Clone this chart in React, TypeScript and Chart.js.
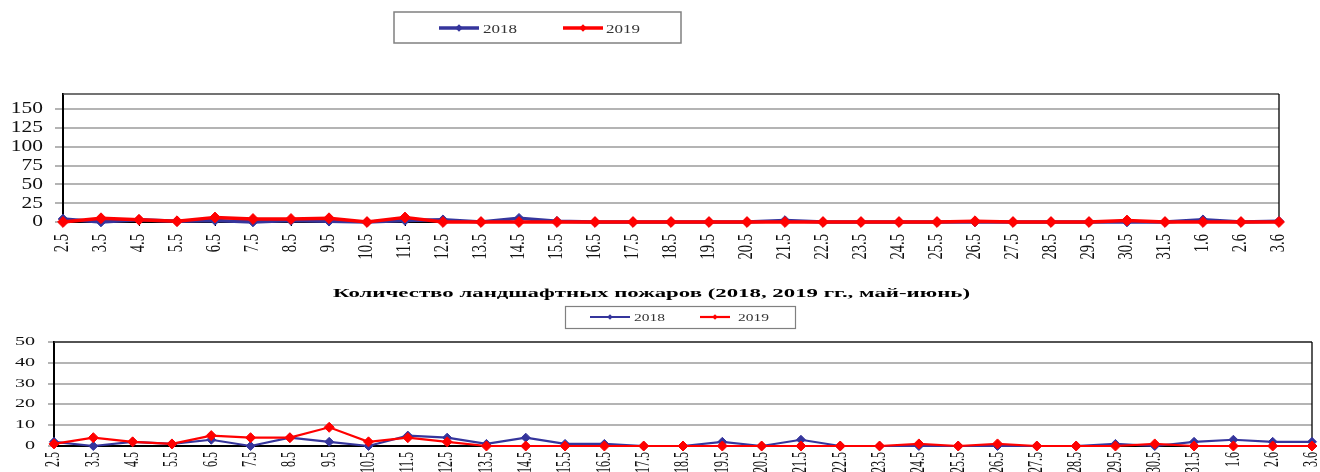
import React, { useEffect, useRef } from 'react';
import { Chart, registerables } from 'chart.js';

Chart.register(...registerables);

// ---------- data ----------
const categories = ['2.5', '3.5', '4.5', '5.5', '6.5', '7.5', '8.5', '9.5', '10.5', '11.5', '12.5', '13.5', '14.5', '15.5', '16.5', '17.5', '18.5', '19.5', '20.5', '21.5', '22.5', '23.5', '24.5', '25.5', '26.5', '27.5', '28.5', '29.5', '30.5', '31.5', '1.6', '2.6', '3.6'];
const seriesLabels = ['2018', '2019'];

const topValues2018 = [4, 0, 3, 1, 2, 0, 2, 1, 0, 2, 3, 0, 5, 1, 0, 0, 0, 0, 0, 2, 0, 0, 0, 0, 0, 0, 0, 0, 0, 0, 3, 0, 1];
const topValues2019 = [0, 5, 3, 1, 6, 4, 4, 5, 0, 6, 0, 0, 0, 0, 0, 0, 0, 0, 0, 0, 0, 0, 0, 0, 1, 0, 0, 0, 2, 0, 0, 0, 0];

const bottomValues2018 = [2, 0, 2, 1, 3, 0, 4, 2, 0, 5, 4, 1, 4, 1, 1, 0, 0, 2, 0, 3, 0, 0, 0, 0, 0, 0, 0, 1, 0, 2, 3, 2, 2];
const bottomValues2019 = [1, 4, 2, 1, 5, 4, 4, 9, 2, 4, 2, 0, 0, 0, 0, 0, 0, 0, 0, 0, 0, 0, 1, 0, 1, 0, 0, 0, 1, 0, 0, 0, 0];

const topYTicks = [0, 25, 50, 75, 100, 125, 150];
const topYMax = 170;
const bottomYTicks = [0, 10, 20, 30, 40, 50];
const bottomYMax = 50;

const bottomTitle = 'Количество ландшафтных пожаров (2018, 2019 гг., май-июнь)';

// ---------- styles ----------
const FONT = "'Liberation Serif', 'Times New Roman', serif";
const BLUE = '#35359c';
const RED = '#ff0000';

function stretchedText(ctx: any, text: string, x: number, y: number, sx: number, align: string) {
  ctx.save();
  ctx.translate(x, y);
  ctx.scale(sx, 1);
  ctx.textAlign = align;
  ctx.fillText(text, 0, 0);
  ctx.restore();
}

const framePlugin = {
  id: 'frame',
  beforeDatasetsDraw(chart: any, _a: any, opts: any) {
    const { ctx, chartArea: a } = chart;
    ctx.save();
    ctx.strokeStyle = opts.topColor;
    ctx.lineWidth = opts.topWidth;
    ctx.beginPath();
    ctx.moveTo(a.left, a.top);
    ctx.lineTo(a.right, a.top);
    ctx.stroke();
    ctx.strokeStyle = opts.rightColor;
    ctx.lineWidth = opts.rightWidth;
    ctx.beginPath();
    ctx.moveTo(a.right, a.top);
    ctx.lineTo(a.right, a.bottom);
    ctx.stroke();
    ctx.restore();
  },
};

// tick labels drawn at the library's own tick positions, with a horizontal stretch
const tickTextPlugin = {
  id: 'tickText',
  afterDraw(chart: any, _a: any, opts: any) {
    const { ctx } = chart;
    const xs = chart.scales.x;
    const ys = chart.scales.y;
    ctx.save();
    ctx.fillStyle = opts.color;
    ctx.textBaseline = 'middle';
    ctx.font = `${opts.yFont}px ${FONT}`;
    ys.ticks.forEach((t: any) => {
      const y = ys.getPixelForValue(t.value);
      stretchedText(ctx, String(t.value), opts.yRight, y, opts.ySx, 'right');
    });
    ctx.font = `${opts.xFont}px ${FONT}`;
    xs.ticks.forEach((t: any, i: number) => {
      const x = xs.getPixelForTick(i);
      const label = xs.getLabelForValue(t.value);
      ctx.save();
      ctx.translate(x, opts.xTop);
      ctx.scale(opts.xSx, 1);
      ctx.rotate(-Math.PI / 2);
      ctx.textAlign = 'right';
      ctx.fillText(label, 0, 0);
      ctx.restore();
    });
    ctx.restore();
  },
};

const boxLegendPlugin = {
  id: 'boxLegend',
  afterDraw(chart: any, _a: any, opts: any) {
    const { ctx } = chart;
    ctx.save();
    const b = opts.box;
    ctx.strokeStyle = opts.borderColor;
    ctx.lineWidth = opts.borderWidth;
    ctx.strokeRect(b.x, b.y, b.w, b.h);
    ctx.font = opts.font;
    ctx.textBaseline = 'middle';
    chart.data.datasets.forEach((ds: any, i: number) => {
      const it = opts.items[i];
      const y = opts.y;
      ctx.strokeStyle = ds.borderColor;
      ctx.lineWidth = opts.lineWidth;
      ctx.beginPath();
      ctx.moveTo(it.x0, y);
      ctx.lineTo(it.x1, y);
      ctx.stroke();
      const cx = (it.x0 + it.x1) / 2;
      const r = opts.markerRadius;
      ctx.fillStyle = ds.borderColor;
      ctx.beginPath();
      ctx.moveTo(cx, y - r);
      ctx.lineTo(cx + r, y);
      ctx.lineTo(cx, y + r);
      ctx.lineTo(cx - r, y);
      ctx.closePath();
      ctx.fill();
      ctx.fillStyle = opts.textColor;
      const w0 = ctx.measureText(ds.label).width;
      stretchedText(ctx, ds.label, it.tx, y + 1, opts.textWidth / w0, 'left');
    });
    ctx.restore();
  },
};

const fittedTitlePlugin = {
  id: 'fittedTitle',
  afterDraw(chart: any, _a: any, opts: any) {
    if (!opts.text) return;
    const { ctx } = chart;
    ctx.save();
    ctx.font = opts.font;
    ctx.fillStyle = opts.color;
    ctx.textBaseline = 'middle';
    const w0 = ctx.measureText(opts.text).width;
    stretchedText(ctx, opts.text, opts.x, opts.y, opts.width / w0, 'left');
    ctx.restore();
  },
};

function makeConfig(p: any): any {
  return {
    type: 'line',
    data: {
      labels: categories,
      datasets: [
        {
          label: seriesLabels[0],
          data: p.v2018,
          borderColor: BLUE,
          backgroundColor: BLUE,
          pointBackgroundColor: BLUE,
          pointBorderColor: BLUE,
          borderWidth: p.lineWidth,
          pointStyle: 'rectRot',
          pointRadius: p.blueRadius,
          pointBorderWidth: 1,
          tension: 0,
          clip: false,
          order: 1,
        },
        {
          label: seriesLabels[1],
          data: p.v2019,
          borderColor: RED,
          backgroundColor: RED,
          pointBackgroundColor: RED,
          pointBorderColor: RED,
          borderWidth: p.lineWidth,
          pointStyle: 'rectRot',
          pointRadius: p.redRadius,
          pointBorderWidth: 1,
          tension: 0,
          clip: false,
          order: 0,
        },
      ],
    },
    plugins: [framePlugin, tickTextPlugin, boxLegendPlugin, fittedTitlePlugin],
    options: {
      responsive: false,
      animation: false,
      devicePixelRatio: 1,
      layout: { padding: p.padding },
      plugins: {
        legend: { display: false },
        tooltip: { enabled: false },
        title: { display: false },
        frame: { topColor: p.topBorder, topWidth: 1.5, rightColor: '#000', rightWidth: 1.3 },
        tickText: p.tickText,
        boxLegend: p.legend,
        fittedTitle: p.title || { text: '' },
      },
      scales: {
        x: {
          type: 'category',
          offset: false,
          grid: {
            display: true,
            drawOnChartArea: false,
            drawTicks: p.xTickLen > 0,
            tickLength: p.xTickLen,
            color: '#000',
            lineWidth: 1,
          },
          border: { display: true, color: '#000', width: 2 },
          ticks: { display: false, autoSkip: false },
          afterFit: (s: any) => {
            s.height = p.xHeight;
          },
        },
        y: {
          min: 0,
          max: p.yMax,
          afterBuildTicks: (s: any) => {
            s.ticks = p.yTicks.map((v: number) => ({ value: v }));
          },
          grid: { color: '#b4b4b4', lineWidth: 2, drawTicks: true, tickLength: p.yTickLen },
          border: { display: true, color: '#000', width: 2 },
          ticks: { display: false, autoSkip: false },
          afterFit: (s: any) => {
            s.width = p.yWidth;
          },
        },
      },
    },
  };
}

export default function App() {
  const topRef = useRef<HTMLCanvasElement>(null);
  const botRef = useRef<HTMLCanvasElement>(null);

  useEffect(() => {
    document.body.style.margin = '0';
    const top = new Chart(
      topRef.current as HTMLCanvasElement,
      makeConfig({
        v2018: topValues2018,
        v2019: topValues2019,
        lineWidth: 3.3,
        blueRadius: 4.8,
        redRadius: 5.4,
        padding: { left: 0, right: 41, top: 94, bottom: 0 },
        xHeight: 48,
        xTickLen: 4,
        yTickLen: 8,
        yWidth: 63,
        yMax: topYMax,
        yTicks: topYTicks,
        topBorder: '#444',
        tickText: { color: '#111', yFont: 16.5, ySx: 1.3, yRight: 43, xFont: 14.5, xSx: 1.4, xTop: 234 },
        legend: {
          box: { x: 394, y: 12, w: 287, h: 31 },
          borderColor: '#808080',
          borderWidth: 1.5,
          font: `13.5px ${FONT}`,
          textWidth: 34,
          textColor: '#333',
          lineWidth: 3.5,
          markerRadius: 3.8,
          y: 28,
          items: [
            { x0: 439, x1: 479, tx: 483 },
            { x0: 563, x1: 603, tx: 606 },
          ],
        },
      })
    );
    const bot = new Chart(
      botRef.current as HTMLCanvasElement,
      makeConfig({
        v2018: bottomValues2018,
        v2019: bottomValues2019,
        lineWidth: 2.2,
        blueRadius: 4.5,
        redRadius: 5,
        padding: { left: 0, right: 8, top: 62, bottom: 0 },
        xHeight: 26,
        xTickLen: 0,
        yTickLen: 6,
        yWidth: 54,
        yMax: bottomYMax,
        yTicks: bottomYTicks,
        topBorder: '#333',
        tickText: { color: '#111', yFont: 11.5, ySx: 1.75, yRight: 35, xFont: 12, xSx: 1.7, xTop: 172 },
        legend: {
          box: { x: 565.5, y: 26.5, w: 230, h: 22 },
          borderColor: '#808080',
          borderWidth: 1.2,
          font: `10.5px ${FONT}`,
          textWidth: 31,
          textColor: '#333',
          lineWidth: 2.2,
          markerRadius: 2.8,
          y: 37,
          items: [
            { x0: 590, x1: 630, tx: 634 },
            { x0: 700, x1: 730, tx: 738 },
          ],
        },
        title: {
          text: bottomTitle,
          font: `bold 13px ${FONT}`,
          width: 637,
          x: 333,
          y: 14,
          color: '#000',
        },
      })
    );
    return () => {
      top.destroy();
      bot.destroy();
    };
  }, []);

  return (
    <div style={{ position: 'absolute', left: 0, top: 0, width: 1320, height: 472, background: '#fff', overflow: 'hidden' }}>
      <canvas
        ref={topRef}
        width={1320}
        height={270}
        style={{ position: 'absolute', left: 0, top: 0, width: 1320, height: 270 }}
      />
      <canvas
        ref={botRef}
        width={1320}
        height={192}
        style={{ position: 'absolute', left: 0, top: 280, width: 1320, height: 192 }}
      />
    </div>
  );
}
